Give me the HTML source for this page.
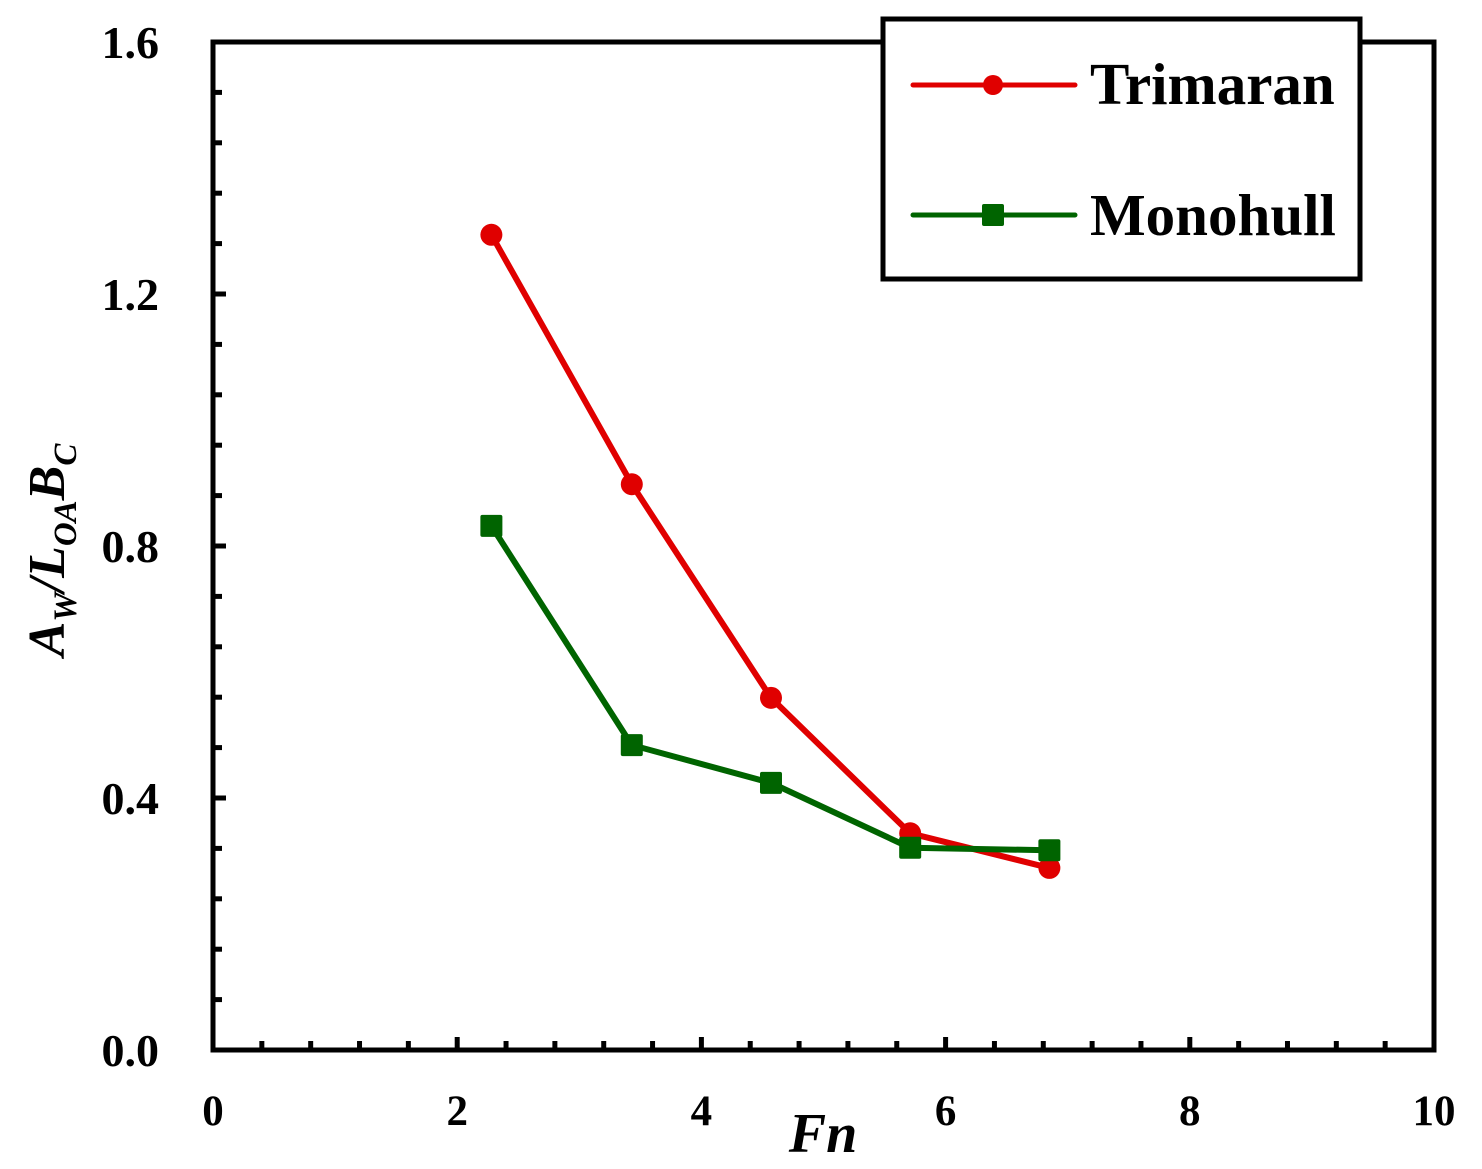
<!DOCTYPE html>
<html><head><meta charset="utf-8"><style>
html,body{margin:0;padding:0;background:#fff;}
svg{display:block;}
text{font-family:"Liberation Serif",serif;font-weight:bold;fill:#000;}
</style></head><body>
<svg id="chart" width="1482" height="1169" viewBox="0 0 1482 1169" xmlns="http://www.w3.org/2000/svg">
<g id="grid"></g>
<g id="series"></g>
<text x="823" y="1152" font-size="56" font-style="italic" text-anchor="middle">Fn</text>
<text transform="translate(64,550) rotate(-90)" font-size="52" font-style="italic" text-anchor="middle">A<tspan font-size="33" dy="12">W</tspan><tspan dy="-12">/L</tspan><tspan font-size="33" dy="12">OA</tspan><tspan dy="-12">B</tspan><tspan font-size="33" dy="12">C</tspan></text>
<g>
<rect x="883" y="19" width="477" height="260" fill="#fff" stroke="#000" stroke-width="5"/>
<line x1="913" y1="85" x2="1075" y2="85" stroke="#e00000" stroke-width="5" stroke-linecap="round"/>
<circle cx="993" cy="85" r="10" fill="#e00000"/>
<text x="1090" y="104" font-size="59">Trimaran</text>
<line x1="913" y1="215" x2="1075" y2="215" stroke="#006400" stroke-width="5" stroke-linecap="round"/>
<rect x="982" y="204" width="22" height="22" rx="2" fill="#006400"/>
<text x="1090" y="235" font-size="59">Monohull</text>
</g>
</svg>
<script>
const xTicks = [0, 2, 4, 6, 8, 10];
const yTicks = [0.0, 0.4, 0.8, 1.2, 1.6];
const yTickLabels = ["0.0", "0.4", "0.8", "1.2", "1.6"];
const fn = [2.28, 3.43, 4.57, 5.71, 6.85];
const trimaran = [1.294, 0.898, 0.559, 0.344, 0.289];
const monohull = [0.832, 0.484, 0.424, 0.321, 0.317];

const L=213,R=1434,T=42,B=1050;
const xs=v=>L+(v-0)/(10-0)*(R-L);
const ys=v=>B-(v-0)/(1.6-0)*(B-T);
const NS="http://www.w3.org/2000/svg";
const grid=document.getElementById('grid');
const ser=document.getElementById('series');
function mk(tag,attrs,parent){const e=document.createElementNS(NS,tag);for(const k in attrs)e.setAttribute(k,attrs[k]);parent.appendChild(e);return e;}

const frame=mk('rect',{x:L,y:T,width:R-L,height:B-T,fill:'none',stroke:'#000','stroke-width':5},grid);



for(let v=0.4;v<10-1e-6;v+=0.4){
  const major=Math.abs(v/2-Math.round(v/2))<1e-6;
  const t=mk('line',{x1:xs(v),x2:xs(v),y1:B,y2:B-(major?13:9),stroke:'#000','stroke-width':5},grid);
  
  
}
for(let v=0.08;v<1.6-1e-6;v+=0.08){
  const major=Math.abs(v/0.4-Math.round(v/0.4))<1e-6;
  const t=mk('line',{x1:L,x2:L+(major?13:9),y1:ys(v),y2:ys(v),stroke:'#000','stroke-width':5},grid);
  
  
}
xTicks.forEach(v=>{
  const t=mk('text',{x:xs(v),y:1125,'font-size':43,'text-anchor':'middle'},grid);
  t.textContent=String(v);
  
  
});
yTicks.forEach((v,i)=>{
  const t=mk('text',{x:159,y:ys(v)+16,'font-size':46,'text-anchor':'end'},grid);
  t.textContent=yTickLabels[i];
  
  
});

function drawSeries(vals,color,shape,name){
  const pts=fn.map((x,i)=>xs(x)+','+ys(vals[i])).join(' ');
  const pl=mk('polyline',{points:pts,fill:'none',stroke:color,'stroke-width':6,'stroke-linejoin':'round'},ser);
  
  
  fn.forEach((x,i)=>{
    let m;
    if(shape==='circle') m=mk('circle',{cx:xs(x),cy:ys(vals[i]),r:11,fill:color},ser);
    else m=mk('rect',{x:xs(x)-11,y:ys(vals[i])-11,width:22,height:22,rx:2,fill:color},ser);
    
    
  });
}
drawSeries(trimaran,'#e00000','circle','trimaran');
drawSeries(monohull,'#006400','square','monohull');
</script>
</body></html>
